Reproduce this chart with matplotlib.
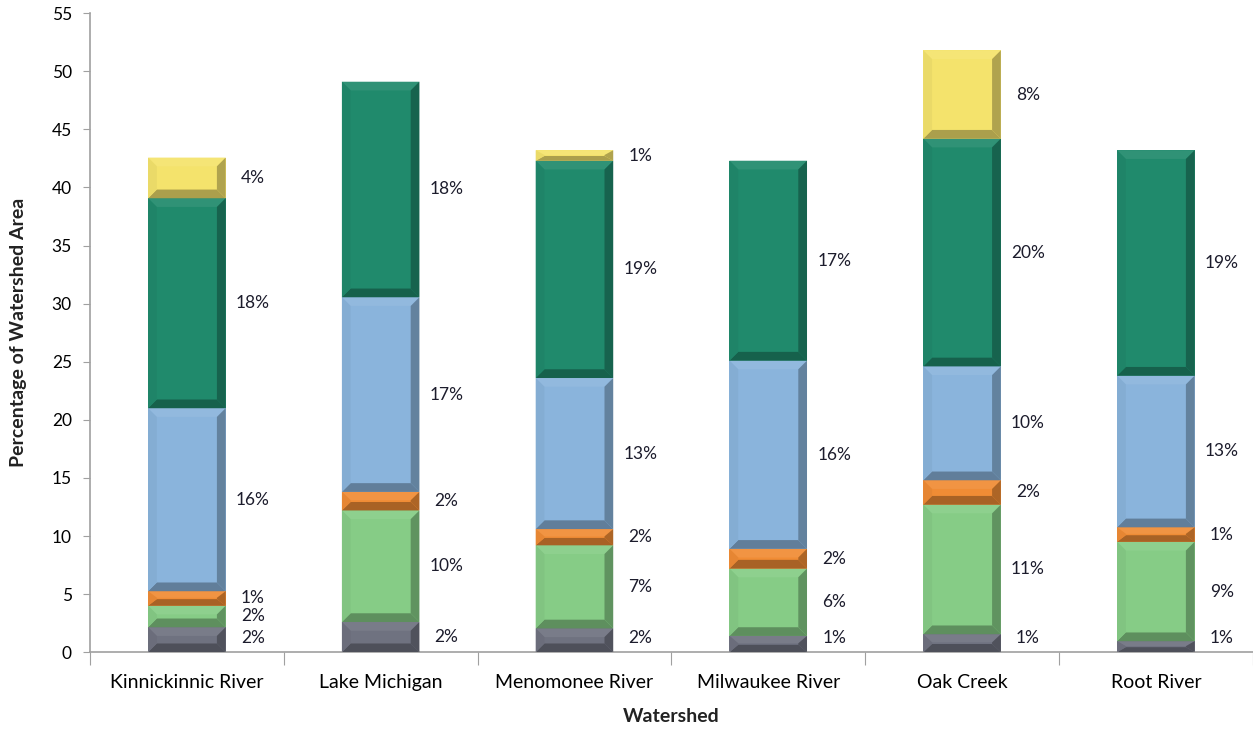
import numpy as np
import matplotlib
matplotlib.use("Agg")
import matplotlib.pyplot as plt
from matplotlib.patches import Polygon
from matplotlib.colors import to_rgb

watersheds = ["Kinnickinnic River", "Lake Michigan", "Menomonee River",
              "Milwaukee River", "Oak Creek", "Root River"]

# segment heights (percent of watershed area), bottom to top
gray = [2.15, 2.6, 2.05, 1.4, 1.55, 0.95]
green = [1.85, 9.6, 7.15, 5.8, 11.15, 8.55]
orange = [1.25, 1.6, 1.4, 1.7, 2.1, 1.25]
blue = [15.75, 16.75, 13.0, 16.2, 9.8, 13.05]
teal = [18.07, 18.55, 18.7, 17.2, 19.6, 19.4]
yellow = [3.5, 0, 0.9, 0, 7.6, 0]

labels = [
    ["2%", "2%", "1%", "16%", "18%", "4%"],
    ["2%", "10%", "2%", "17%", "18%", ""],
    ["2%", "7%", "2%", "13%", "19%", "1%"],
    ["1%", "6%", "2%", "16%", "17%", ""],
    ["1%", "11%", "2%", "10%", "20%", "8%"],
    ["1%", "9%", "1%", "13%", "19%", ""],
]

series = [gray, green, orange, blue, teal, yellow]
colors = ["#6f7280", "#86cc86", "#f08c35", "#8ab4dc", "#208a6c", "#f4e36c"]

plt.rcParams["font.family"] = ["Lato", "DejaVu Sans"]

fig = plt.figure(figsize=(12.53, 7.32), dpi=100)
ax = fig.add_axes([0.0718, 0.109, 0.928, 0.873])

x = np.arange(len(watersheds))
width = 0.4
bx = 0.045  # bevel size in x units
by = 0.75   # bevel size in y units


def shade(c, f):
    r = np.array(to_rgb(c))
    if f > 1:
        return tuple(r + (1 - r) * (f - 1))
    return tuple(r * f)


bottom = np.zeros(len(x))
for vals, col in zip(series, colors):
    vals = np.array(vals)
    ax.bar(x, vals, width, bottom=bottom, color=col, edgecolor="none", zorder=2)
    for i in range(len(x)):
        h = vals[i]
        if h <= 0:
            continue
        x0, x1 = x[i] - width / 2, x[i] + width / 2
        y0, y1 = bottom[i], bottom[i] + h
        dy = min(by, h / 2.2)
        dx = bx
        top = [(x0, y1), (x1, y1), (x1 - dx, y1 - dy), (x0 + dx, y1 - dy)]
        bot = [(x0, y0), (x1, y0), (x1 - dx, y0 + dy), (x0 + dx, y0 + dy)]
        left = [(x0, y0), (x0, y1), (x0 + dx, y1 - dy), (x0 + dx, y0 + dy)]
        right = [(x1, y0), (x1, y1), (x1 - dx, y1 - dy), (x1 - dx, y0 + dy)]
        for pts, f in [(top, 1.07), (bot, 0.7), (left, 0.96), (right, 0.72)]:
            ax.add_patch(Polygon(pts, closed=True, facecolor=shade(col, f),
                                 edgecolor="none", zorder=3))
    bottom = bottom + vals

# value labels to the right of each bar
for i in range(len(x)):
    cum = 0
    for k, vals in enumerate(series):
        h = vals[i]
        if labels[i][k]:
            yc = max(cum + h / 2, 1.2)
            ax.text(x[i] + 0.34, yc, labels[i][k], ha="center", va="center",
                    fontsize=12.5, color="#1c1c2c")
        cum += h

ax.set_xlim(-0.5, len(x) - 0.5)
ax.set_ylim(0, 55)
ax.set_yticks(np.arange(0, 56, 5))
ax.set_xticks(np.arange(-0.5, len(x), 1.0))
ax.set_xticklabels([])
ax.set_xticks(x, minor=True)
ax.set_xticklabels(watersheds, minor=True, fontsize=14)
ax.tick_params(axis="x", which="minor", length=0, pad=16)
ax.tick_params(axis="x", which="major", length=9, color="#a0a0a0", direction="out")
ax.tick_params(axis="y", length=5, color="#a0a0a0", labelsize=12.5, pad=8)

for s in ["top", "right"]:
    ax.spines[s].set_visible(False)
for s in ["left", "bottom"]:
    ax.spines[s].set_color("#a0a0a0")
    ax.spines[s].set_linewidth(1.2)

ax.set_xlabel("Watershed", fontsize=14, fontweight="bold", color="#222222", labelpad=12)
ax.set_ylabel("Percentage of Watershed Area", fontsize=14, fontweight="bold",
              color="#222222", labelpad=18)

fig.savefig("out.png", dpi=100)
